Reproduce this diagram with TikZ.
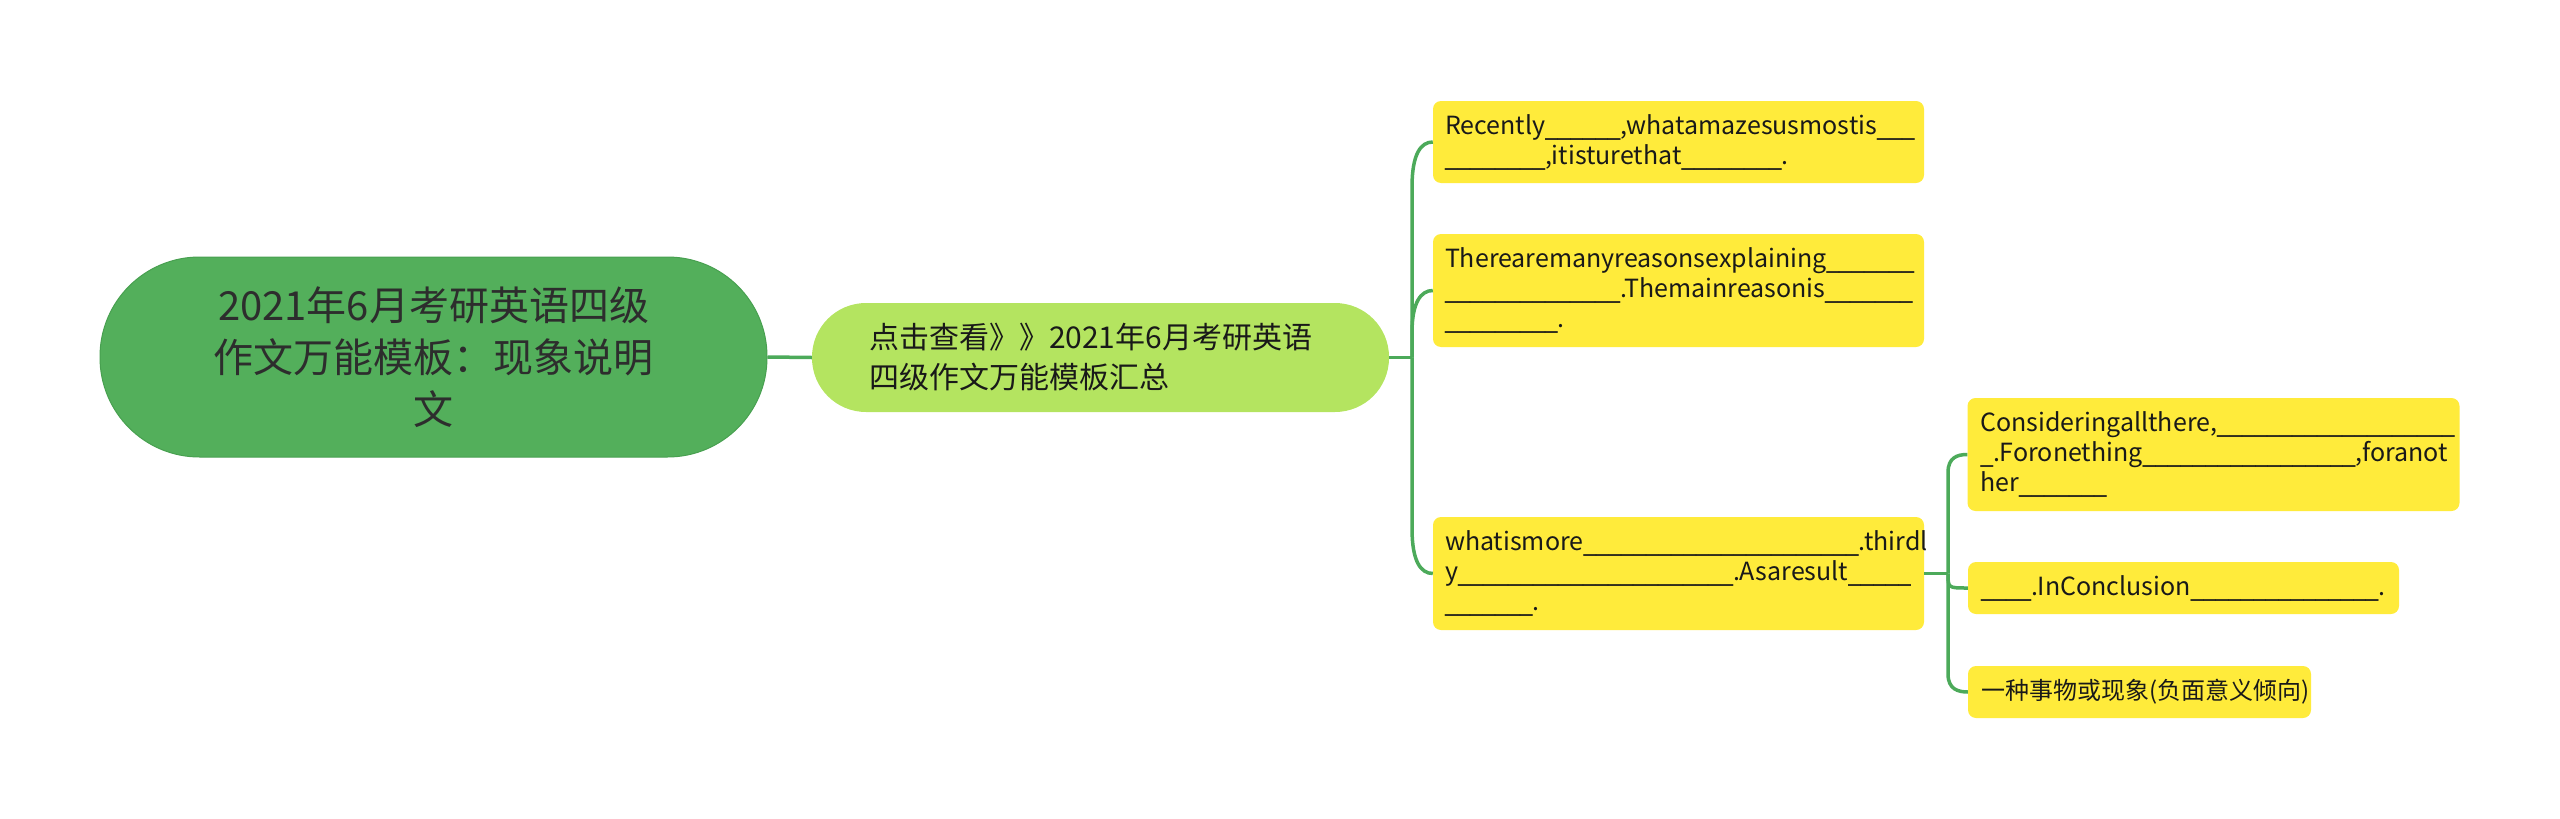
\documentclass[tikz,border=0pt]{standalone}
\usepackage{fontspec}
\setmainfont{Noto Sans CJK SC}
\newfontfamily\usfont{DejaVu Sans}
\usetikzlibrary{calc}
\definecolor{rootfill}{RGB}{83,175,91}
\definecolor{rootdraw}{RGB}{72,160,80}
\definecolor{subfill}{RGB}{180,228,96}
\definecolor{yfill}{RGB}{255,235,59}
\definecolor{linegreen}{RGB}{76,170,90}
\definecolor{roottext}{RGB}{45,45,45}
\definecolor{boxtext}{RGB}{25,25,25}
\newcommand{\uscx}[1]{\ifnum#1>0 \_\expandafter\uscx\expandafter{\the\numexpr#1-1\relax}\fi}
\newcommand{\usc}[1]{{\usfont\uscx{#1}}}
\begin{document}
\begin{tikzpicture}[x=1pt,y=-1pt,
  conn/.style={draw=linegreen, line width=3.5pt},
  rootnode/.style={fill=rootfill, draw=rootdraw, line width=1pt, rounded corners=99.5pt,
    minimum width=667pt, minimum height=200pt, text=roottext, align=center,
    font=\fontsize{40}{52}\selectfont, inner sep=0pt},
  subnode/.style={fill=subfill, rounded corners=54pt, minimum height=109pt,
    text width=463pt, inner xsep=57pt, inner ysep=0pt, align=left, text=boxtext,
    font=\fontsize{30}{40}\selectfont},
  ybox/.style={fill=yfill, rounded corners=8pt, inner xsep=12pt, inner ysep=0pt,
    align=left, text=boxtext, font=\fontsize{25}{30}\selectfont}
]
\useasboundingbox (0,0) rectangle (2560,819);

\node[rootnode] (root) at (433.5,357) {2021年6月考研英语四级\\作文万能模板：现象说明\\文};
\node[subnode] (sub) at (1100.5,357.5) {点击查看》》2021年6月考研英语\\四级作文万能模板汇总};

\node[ybox, text width=467pt, minimum height=82pt] (b1) at (1678.5,142)
  {Recently\usc{6},whatamazesusmostis\usc{3}\\\usc{8},itisturethat\usc{8}.};
\node[ybox, text width=467pt, minimum height=113pt] (b2) at (1678.5,290.5)
  {Therearemanyreasonsexplaining\usc{7}\\\usc{14}.Themainreasonis\usc{7}\\\usc{9}.};
\node[ybox, text width=467pt, minimum height=113pt] (b3) at (1678.5,573.5)
  {whatismore\usc{22}.thirdl\\y\usc{22}.Asaresult\usc{5}\\\usc{7}.};

\node[ybox, text width=466pt, inner xsep=13pt, minimum height=113pt] (bA) at (2213.5,454.5)
  {Consideringallthere,\usc{19}\\\usc{1}.Foronething\usc{17},foranot\\her\usc{7}};
\node[ybox, text width=405pt, inner xsep=13pt, minimum height=52pt] (bB) at (2183.5,588)
  {\usc{4}.InConclusion\usc{15}.};
\node[ybox, text width=317pt, inner xsep=13pt, minimum height=52pt, font=\fontsize{24}{30}\selectfont] (bC) at (2139.5,692)
  {一种事物或现象(负面意义倾向)};

\coordinate (t1) at (1412,357.5);
\coordinate (t2) at (1948,573.5);

\draw[conn] (root.east) -- (sub.west);
\draw[conn] (sub.east) -- (t1);
\draw[conn] (t1) -- ([yshift=-45pt]t1 |- b1.west) .. controls ([yshift=-12pt]t1 |- b1.west) and ([xshift=-12pt]b1.west) .. (b1.west);
\draw[conn] (t1) -- ([yshift=-42pt]t1 |- b2.west) .. controls ([yshift=-12pt]t1 |- b2.west) and ([xshift=-12pt]b2.west) .. (b2.west);
\draw[conn] (t1) -- ([yshift=45pt]t1 |- b3.west) .. controls ([yshift=12pt]t1 |- b3.west) and ([xshift=-12pt]b3.west) .. (b3.west);

\draw[conn] (b3.east) -- (t2);
\draw[conn] (t2) -- ([yshift=-18pt]t2 |- bA.west) .. controls ([yshift=-3pt]t2 |- bA.west) and ([xshift=-10pt]bA.west) .. (bA.west);
\draw[conn] (t2) .. controls (t2 |- bB.west) .. (bB.west);
\draw[conn] (t2) -- ([yshift=18pt]t2 |- bC.west) .. controls ([yshift=3pt]t2 |- bC.west) and ([xshift=-10pt]bC.west) .. (bC.west);
\end{tikzpicture}
\end{document}
